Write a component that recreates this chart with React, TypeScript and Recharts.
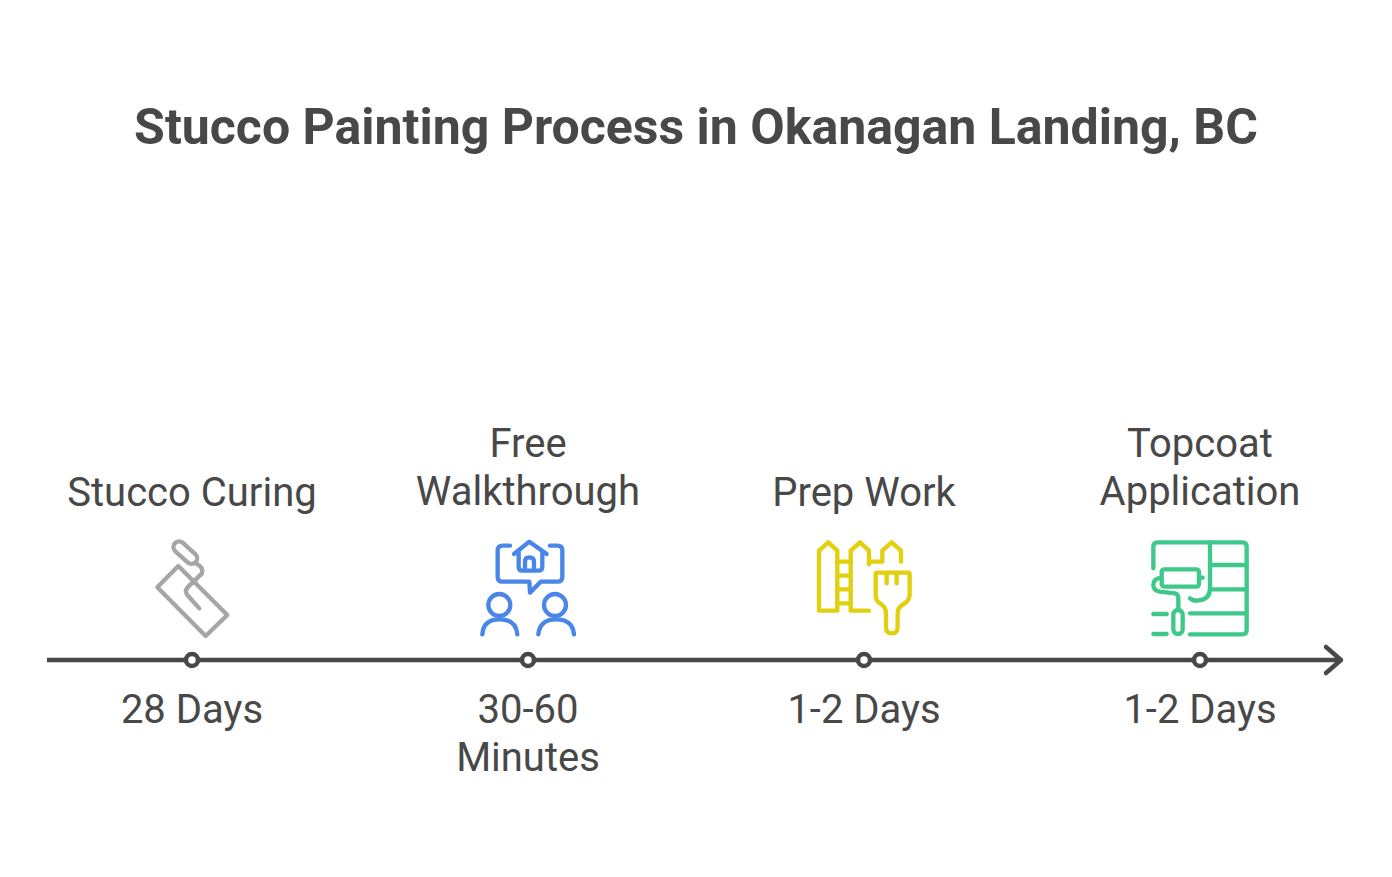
import React from "react";
import { ComposedChart, Line, XAxis, YAxis, ReferenceDot } from "recharts";

const chartTitle = "Stucco Painting Process in Okanagan Landing, BC";
const stepIndex = [0, 1, 2, 3];
const stepNames = [["Stucco Curing"], ["Free", "Walkthrough"], ["Prep Work"], ["Topcoat", "Application"]];
const durations = [["28 Days"], ["30-60", "Minutes"], ["1-2 Days"], ["1-2 Days"]];
const iconKinds = ["trowel", "walkthrough", "fence", "roller"];
const levels = [0, 0, 0, 0];

const axisMin = -0.4315;
const axisMax = 3.4196;
const INK = "#484848";
const FONT = "Roboto, sans-serif";

const data = stepIndex.map((step, i) => ({ step, level: levels[i], kind: iconKinds[i], name: stepNames[i] }));

function Icon({ kind }: { kind: string }) {
  const common = { fill: "none", strokeWidth: 13, strokeLinecap: "round" as const, strokeLinejoin: "round" as const };
  if (kind === "trowel") {
    return (
      <g {...common} stroke="#A6A6A6" transform="translate(-52,-130) scale(0.3333)">
        <rect x={-42} y={-17} width={84} height={34} rx={17} transform="translate(136,68) rotate(42)" />
        <path d="M168 100 Q192 112 186 130 L145 170 Q132 183 142 195 L178 235" />
        <path d="M115 108 L262 255 L197 318 L52 172 Z" />
      </g>
    );
  }
  if (kind === "walkthrough") {
    return (
      <g {...common} stroke="#4A86E8" transform="translate(-58,-130) scale(0.3333)">
        <path d="M120 47 L98 47 Q83 47 83 62 L83 140 Q83 155 98 155 L178 155 L180 188 L212 155 L262 155 Q277 155 277 140 L277 62 Q277 47 262 47 L240 47" />
        <path d="M132 72 L178 35 L230 72" />
        <path d="M146 65 L146 110 Q146 122 158 122 L205 122 Q217 122 217 110 L217 65" />
        <path d="M165 120 L165 95 Q165 82 178 82 Q192 82 192 95 L192 120" />
        <circle cx={88} cy={225} r={33} />
        <circle cx={255} cy={225} r={33} />
        <path d="M37 313 Q40 268 88 268 Q138 268 142 313" />
        <path d="M205 313 Q210 268 258 268 Q308 268 312 313" />
      </g>
    );
  }
  if (kind === "fence") {
    return (
      <g {...common} stroke="#E2CF0E" transform="translate(-59,-130) scale(0.3333)">
        <path d="M97 242 L42 242 L42 62 L70 37 L97 62 Z" />
        <path d="M97 95 L137 95 M97 137 L137 137 M97 178 L137 178 M97 220 L137 220" />
        <path d="M192 242 L137 242 L137 62 L165 37 L192 62 L192 103" />
        <path d="M192 95 L232 95 L232 62 L260 37 L288 62 L288 95" />
        <path d="M216 128 L310 128 Q314 128 314 132 L314 195 Q312 214 296 222 Q278 232 278 250 L278 290 Q278 310 260 310 Q243 310 243 290 L243 250 Q243 232 228 222 Q212 214 212 195 L212 132 Q212 128 216 128 Z" />
        <path d="M245 130 L245 160 M275 130 L275 160" />
      </g>
    );
  }
  return (
    <g {...common} stroke="#3EC98A" transform="translate(-60,-130) scale(0.3333)">
      <path d="M40 115 L40 50 Q40 37 53 37 L307 37 Q320 37 320 50 L320 300 Q320 313 307 313 L150 313" />
      <path d="M210 37 L210 175 Q210 210 172 212 Q158 212 150 205" />
      <path d="M210 105 L320 105 M210 178 L320 178 M150 250 L320 250" />
      <path d="M40 252 L80 252 M40 312 L80 312" />
      <rect x={65} y={118} width={112} height={52} rx={8} />
      <path d="M177 143 L188 143" />
      <path d="M65 143 Q40 145 40 165 Q40 182 60 185 L105 190 Q115 192 115 205 L115 240" />
      <rect x={100} y={240} width={28} height={72} rx={14} />
    </g>
  );
}

function StepDot(props: any) {
  const { cx, cy, payload } = props;
  const lines: string[] = payload.name;
  return (
    <g key={payload.step} transform={`translate(${cx},${cy})`}>
      <Icon kind={payload.kind} />
      <circle r={6} fill="#ffffff" stroke={INK} strokeWidth={4.5} />
      {lines.map((line, i) => (
        <text
          key={line}
          x={0}
          y={(lines.length > 1 ? -155 : -154) - (lines.length - 1 - i) * 48}
          textAnchor="middle"
          fontFamily={FONT}
          fontSize={40}
          fill={INK}
        >
          {line}
        </text>
      ))}
    </g>
  );
}

function DurationTick(props: any) {
  const { x, payload } = props;
  const lines: string[] = durations[payload.value];
  return (
    <g>
      {lines.map((line, i) => (
        <text key={line} x={x} y={723 + i * 48} textAnchor="middle" fontFamily={FONT} fontSize={40} fill={INK}>
          {line}
        </text>
      ))}
    </g>
  );
}

function ArrowHead(props: any) {
  const { cx, cy } = props;
  return (
    <path
      d={`M${cx - 15} ${cy - 13} L${cx} ${cy} L${cx - 15} ${cy + 13}`}
      fill="none"
      stroke={INK}
      strokeWidth={4.5}
      strokeLinecap="round"
      strokeLinejoin="round"
    />
  );
}

export default function App() {
  return (
    <div style={{ position: "absolute", left: 0, top: 0, width: 1392, height: 877, background: "#ffffff" }}>
      <ComposedChart
        width={1392}
        height={877}
        data={data}
        margin={{ top: 400, right: 51, bottom: 0, left: 47 }}
      >
        <XAxis
          dataKey="step"
          type="number"
          domain={[axisMin, axisMax]}
          ticks={stepIndex}
          height={217}
          tickLine={false}
          axisLine={{ stroke: INK, strokeWidth: 4.5 }}
          tick={<DurationTick />}
          interval={0}
        />
        <YAxis hide domain={[0, 1]} />
        <Line
          dataKey="level"
          stroke="none"
          dot={(p: any) => <StepDot {...p} />}
          activeDot={false}
          isAnimationActive={false}
        />
        <ReferenceDot x={axisMax} y={0} ifOverflow="visible" shape={(p: any) => <ArrowHead {...p} />} />
        <text
          x={696}
          y={144}
          textAnchor="middle"
          fontFamily={FONT}
          fontWeight={700}
          fontSize={50}
          fill={INK}
        >
          {chartTitle}
        </text>
      </ComposedChart>
    </div>
  );
}
